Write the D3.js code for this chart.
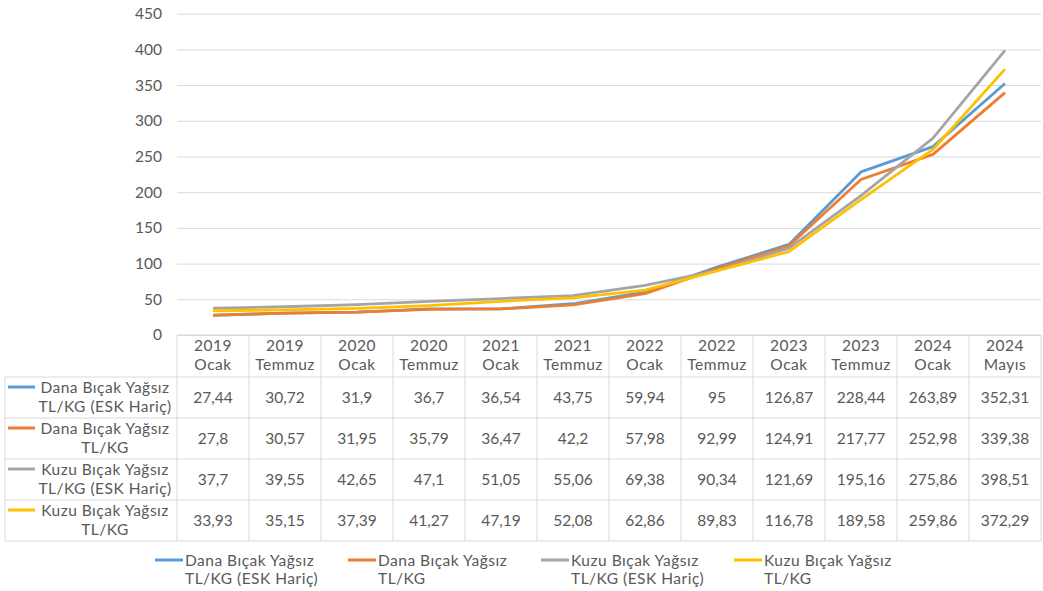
<!DOCTYPE html>
<html>
<head>
<meta charset="utf-8">
<script src="https://cdn.jsdelivr.net/npm/d3@7"></script>
<style>
  body { margin: 0; background: #fff; }
  svg text { font-family: Lato, "Open Sans", sans-serif; fill: #595959; }
  .word { letter-spacing: 0.5px; }
</style>
</head>
<body>
<div id="chart"></div>
<script>
const periods = [
  ["2019", "Ocak"], ["2019", "Temmuz"], ["2020", "Ocak"], ["2020", "Temmuz"],
  ["2021", "Ocak"], ["2021", "Temmuz"], ["2022", "Ocak"], ["2022", "Temmuz"],
  ["2023", "Ocak"], ["2023", "Temmuz"], ["2024", "Ocak"], ["2024", "Mayıs"]
];
const seriesNames = [
  ["Dana Bıçak Yağsız", "TL/KG (ESK Hariç)"],
  ["Dana Bıçak Yağsız", "TL/KG"],
  ["Kuzu Bıçak Yağsız", "TL/KG (ESK Hariç)"],
  ["Kuzu Bıçak Yağsız", "TL/KG"]
];
const danaEsk = [27.44, 30.72, 31.9, 36.7, 36.54, 43.75, 59.94, 95, 126.87, 228.44, 263.89, 352.31];
const dana = [27.8, 30.57, 31.95, 35.79, 36.47, 42.2, 57.98, 92.99, 124.91, 217.77, 252.98, 339.38];
const kuzuEsk = [37.7, 39.55, 42.65, 47.1, 51.05, 55.06, 69.38, 90.34, 121.69, 195.16, 275.86, 398.51];
const kuzu = [33.93, 35.15, 37.39, 41.27, 47.19, 52.08, 62.86, 89.83, 116.78, 189.58, 259.86, 372.29];
const yTicks = [0, 50, 100, 150, 200, 250, 300, 350, 400, 450];
const colors = ["#5B9BD5", "#ED7D31", "#A5A5A5", "#FFC000"];

const allSeries = [danaEsk, dana, kuzuEsk, kuzu];
const W = 1043, H = 591;
const plotLeft = 177, plotRight = 1041, plotTop = 13.7, plotBottom = 335;
const headerH = 42, rowH = 41, tableLeft = 5;
const gridColor = "#d9d9d9";

const svg = d3.select("#chart").append("svg")
  .attr("width", W).attr("height", H);

const x = d3.scaleBand()
  .domain(periods.map((d, i) => i))
  .range([plotLeft, plotRight]);

const y = d3.scaleLinear()
  .domain([0, 450])
  .range([plotBottom, plotTop]);

// Y Axis with gridlines
const yAxis = svg.append("g")
  .attr("transform", `translate(${plotLeft},0)`)
  .call(d3.axisLeft(y).tickValues(yTicks).tickSize(-(plotRight - plotLeft)).tickPadding(15));
yAxis.select(".domain").remove();
yAxis.selectAll("line").attr("stroke", gridColor);
yAxis.selectAll("text").style("font-size", "15.5px").attr("fill", "#595959");

// Lines
const line = d3.line()
  .x((d, i) => x(i) + x.bandwidth() / 2)
  .y(d => y(d));

svg.selectAll("path.series")
  .data(allSeries)
  .enter()
  .append("path")
  .attr("class", "series")
  .attr("fill", "none")
  .attr("stroke", (d, i) => colors[i])
  .attr("stroke-width", 2.8)
  .attr("stroke-linejoin", "round")
  .attr("d", line);

// Data table
const table = svg.append("g");
const tableBottom = plotBottom + headerH + rowH * allSeries.length;

// horizontal lines
table.append("line")
  .attr("x1", plotLeft).attr("x2", plotRight)
  .attr("y1", plotBottom).attr("y2", plotBottom)
  .attr("stroke", gridColor);
for (let r = 0; r <= allSeries.length; r++) {
  const yy = plotBottom + headerH + r * rowH;
  table.append("line")
    .attr("x1", tableLeft).attr("x2", plotRight)
    .attr("y1", yy).attr("y2", yy)
    .attr("stroke", gridColor);
}
// vertical lines
table.append("line")
  .attr("x1", tableLeft).attr("x2", tableLeft)
  .attr("y1", plotBottom + headerH).attr("y2", tableBottom)
  .attr("stroke", gridColor);
periods.forEach((p, i) => {
  table.append("line")
    .attr("x1", x(i)).attr("x2", x(i))
    .attr("y1", plotBottom).attr("y2", tableBottom)
    .attr("stroke", gridColor);
});
table.append("line")
  .attr("x1", plotRight).attr("x2", plotRight)
  .attr("y1", plotBottom).attr("y2", tableBottom)
  .attr("stroke", gridColor);

// header labels
periods.forEach((p, i) => {
  const t = table.append("text")
    .attr("class", "word")
    .attr("text-anchor", "middle")
    .style("font-size", "15.5px");
  p.forEach((s, k) => {
    t.append("tspan")
      .attr("x", x(i) + x.bandwidth() / 2)
      .attr("y", plotBottom + 16 + k * 19)
      .text(s);
  });
});

// rows
const fmt = v => String(v).replace(".", ",");
allSeries.forEach((vals, r) => {
  const top = plotBottom + headerH + r * rowH;
  table.append("line")
    .attr("x1", 8).attr("x2", 35)
    .attr("y1", top + 10).attr("y2", top + 10)
    .attr("stroke", colors[r]).attr("stroke-width", 3);
  const t = table.append("text")
    .attr("class", "word")
    .attr("text-anchor", "middle")
    .style("font-size", "15.5px");
  seriesNames[r].forEach((s, k) => {
    t.append("tspan")
      .attr("x", 105)
      .attr("y", top + 16 + k * 19)
      .text(s);
  });
  vals.forEach((v, i) => {
    table.append("text")
      .attr("x", x(i) + x.bandwidth() / 2)
      .attr("y", top + rowH / 2 + 5)
      .attr("text-anchor", "middle")
      .style("font-size", "15.5px")
      .text(fmt(v));
  });
});

// Bottom legend
const legend = svg.append("g");
seriesNames.forEach((name, i) => {
  const lx = 155 + i * 193;
  legend.append("line")
    .attr("x1", lx).attr("x2", lx + 28)
    .attr("y1", 560).attr("y2", 560)
    .attr("stroke", colors[i]).attr("stroke-width", 3);
  const t = legend.append("text").attr("class", "word").style("font-size", "15.5px");
  name.forEach((s, k) => {
    t.append("tspan")
      .attr("x", lx + 30)
      .attr("y", 566 + k * 18)
      .text(s);
  });
});
</script>
</body>
</html>
